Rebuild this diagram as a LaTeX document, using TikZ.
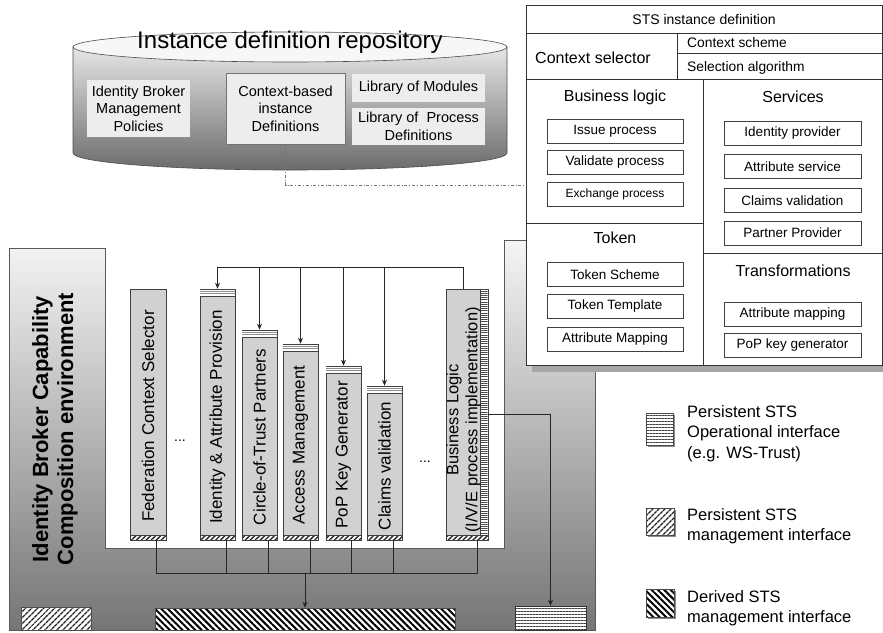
\documentclass[tikz,border=0pt]{standalone}
\usepackage{fontspec}
\setmainfont{Liberation Sans}
\usetikzlibrary{arrows.meta,patterns.meta,fit,calc}
\definecolor{modfill}{gray}{0.82}
\definecolor{envtop}{gray}{0.96}
\definecolor{envbot}{gray}{0.46}
\definecolor{cyltop}{gray}{0.90}
\definecolor{cylbot}{gray}{0.42}
\newcommand\modcap[3]{%
  \fill[white] (#1,-#3) rectangle (#2,-#3-7);
  \draw[black!45,line width=0.5pt] (#1,-#3-2.3) -- (#2,-#3-2.3) (#1,-#3-4.6) -- (#2,-#3-4.6);
  \draw[black!75,line width=0.6pt] (#1,-#3) -- (#2,-#3) (#1,-#3-7) -- (#2,-#3-7);}
\newcommand\modfoot[2]{%
  \path[modhatch,draw=black!75,line width=0.5pt] (#1,-535) rectangle (#2,-540);}
\begin{document}
\begin{tikzpicture}[x=1pt,y=1pt,
  item/.style={draw=black!75, line width=0.6pt, fill=white, minimum height=24pt, inner sep=0pt, font=\fontsize{13.5}{16}\selectfont},
  litem/.style={item, minimum width=136pt},
  ritem/.style={item, minimum width=137pt},
  head/.style={inner sep=0pt, font=\fontsize{16}{19}\selectfont},
  sub/.style={inner sep=0pt, anchor=west, font=\fontsize{13.8}{16}\selectfont},
  cbox/.style={fill=black!7, inner sep=0pt, align=center, font=\fontsize{14.5}{17.5}\selectfont},
  modbox/.style={draw=black!75, line width=0.6pt, fill=modfill, inner sep=0pt},
  modtext/.style={rotate=90, inner sep=0pt, font=\fontsize{17}{19}\selectfont, align=center},
  conn/.style={draw=black!85, line width=0.7pt},
  arr/.style={conn, -{Stealth[length=6pt,width=5pt]}},
  modhatch/.style={preaction={fill=white}, pattern={Lines[angle=45,distance=3.5pt,line width=1.4pt]}, pattern color=black!85},
  mgmtpat/.style={preaction={fill=white}, pattern={Lines[angle=45,distance=4pt,line width=1.5pt]}, pattern color=black!85},
  derpat/.style={preaction={fill=white}, pattern={Lines[angle=-45,distance=4.5pt,line width=2pt]}, pattern color=black},
  oppat/.style={preaction={fill=white}, pattern={Lines[angle=0,distance=3pt,line width=1pt]}, pattern color=black!75},
  stripat/.style={preaction={fill=white}, pattern={Lines[angle=0,distance=2.2pt,line width=0.8pt]}, pattern color=black!70},
  legtext/.style={anchor=west, inner sep=0pt, align=left, font=\fontsize{16.5}{20.5}\selectfont},
  dots/.style={font=\fontsize{14}{14}\selectfont, inner sep=0pt}
]
\useasboundingbox (0,0) rectangle (883,-632);
\fill[white] (0,0) rectangle (883,-632);

% ---------------- repository cylinder ----------------
\shade[top color=cyltop, bottom color=cylbot, draw=black!70, line width=0.6pt]
  (73,-47) -- (73,-153) arc[start angle=180, end angle=360, x radius=217, y radius=17] -- (507,-47) -- cycle;
\draw[fill=black!3, draw=black!70, line width=0.6pt] (290,-47) ellipse[x radius=217, y radius=15];
\node[font=\fontsize{24}{24}\selectfont, anchor=base, inner sep=0pt] (repo) at (290,-48) {Instance definition repository};
\node[cbox, minimum width=103pt, minimum height=57pt] (c1) at (138.5,-108.5) {Identity Broker\\Management\\Policies};
\node[cbox, draw=black!55, minimum width=119pt, minimum height=71pt] (c2) at (285.5,-108.5) {Context-based\\instance\\Definitions};
\node[cbox, minimum width=133pt, minimum height=28pt] (c3) at (418.5,-88) {Library of Modules};
\node[cbox, minimum width=133pt, minimum height=37pt] (c4) at (418.5,-126.5) {Library of\ \ Process\\Definitions};

% ---------------- composition environment ----------------
\shade[top color=envtop, bottom color=envbot, draw=black!65, line width=0.6pt]
  (9,-248) -- (105,-248) -- (105,-548) -- (504,-548) -- (504,-240) -- (595,-240) -- (595,-630) -- (9,-630) -- cycle;
\node[rotate=90, inner sep=0pt, align=center, font=\bfseries\fontsize{22}{25}\selectfont] (envlbl) at (55,-429)
  {Identity Broker Capability\\Composition environment};

% interface bars
\node[mgmtpat, draw=black!70, line width=0.5pt, minimum width=70pt, minimum height=23pt, inner sep=0pt] (pbar) at (56,-618.5) {};
\node[derpat, draw=black!70, line width=0.5pt, minimum width=300pt, minimum height=22pt, inner sep=0pt] (dbar) at (305,-619) {};
\node[oppat, draw=black!80, line width=0.6pt, minimum width=71pt, minimum height=24pt, inner sep=0pt] (obar) at (550.5,-618) {};

% modules
\node[modbox, fit={(130,-289) (166,-540)}] (m1) {};
\node[modbox, fit={(200,-289) (235,-540)}] (m2) {};
\node[modbox, fit={(242,-330) (277,-540)}] (m3) {};
\node[modbox, fit={(283,-344) (318,-540)}] (m4) {};
\node[modbox, fit={(326,-366) (361,-540)}] (m5) {};
\node[modbox, fit={(367,-386) (402,-540)}] (m6) {};
\node[modbox, fit={(446,-289) (488,-540)}] (m7) {};
\path[stripat, draw=black!75, line width=0.5pt] (480,-289) rectangle (488,-540);
\modcap{200}{235}{289}
\modcap{242}{277}{330}
\modcap{283}{318}{344}
\modcap{326}{361}{366}
\modcap{367}{402}{386}
\modfoot{130}{166}
\modfoot{200}{235}
\modfoot{242}{277}
\modfoot{283}{318}
\modfoot{326}{361}
\modfoot{367}{402}
\modfoot{446}{488}
\node[modtext] (t1) at (148,-416) {Federation Context Selector};
\node[modtext] (t2) at (217.5,-417) {Identity \& Attribute Provision};
\node[modtext] (t3) at (259.5,-437) {Circle-of-Trust Partners};
\node[modtext] (t4) at (300.5,-445) {Access Management};
\node[modtext] (t5) at (343.5,-455) {PoP Key Generator};
\node[modtext] (t6) at (384.5,-466) {Claims validation};
\node[modtext, font=\fontsize{16.5}{19}\selectfont] (t7) at (463.5,-420) {Business Logic\\(I/V/E process implementation)};
\node[dots] (d1) at (180,-441) {...};
\node[dots] (d2) at (425,-462) {...};

% top connector
\coordinate (tbus) at (0,-267);
\draw[arr] ([xshift=-4pt]m7.north) -- ([xshift=-4pt]m7.north |- tbus) -| (m2.north);
\draw[arr] (m3.north |- tbus) -- (m3.north);
\draw[arr] (m4.north |- tbus) -- (m4.north);
\draw[arr] (m5.north |- tbus) -- (m5.north);
\draw[arr] (m6.north |- tbus) -- (m6.north);

% bottom connector
\coordinate (bbus) at (0,-573);
\draw[conn] ([xshift=8pt]m1.south) |- ([xshift=10pt]m7.south |- bbus) -- ([xshift=10pt]m7.south);
\draw[conn] ([xshift=8.5pt]m2.south) -- ([xshift=8.5pt]m2.south |- bbus);
\draw[conn] ([xshift=8.5pt]m3.south) -- ([xshift=8.5pt]m3.south |- bbus);
\draw[conn] ([xshift=9.5pt]m4.south) -- ([xshift=9.5pt]m4.south |- bbus);
\draw[conn] ([xshift=7.5pt]m5.south) -- ([xshift=7.5pt]m5.south |- bbus);
\draw[conn] ([xshift=8.5pt]m6.south) -- ([xshift=8.5pt]m6.south |- bbus);
\draw[arr] (dbar.north |- bbus) -- (dbar.north);
\draw[arr] (m7.east |- 0,-414) -| (obar.north);

% ---------------- STS instance definition ----------------
\fill[black!35] (532,-12) rectangle (890,-372);
\node[draw=black!80, line width=0.8pt, fill=white, minimum width=356pt, minimum height=360pt, inner sep=0pt] (sts) at (704,-185) {};
\draw[black!80, line width=0.7pt]
  (526,-33) -- (882,-33)
  (526,-79) -- (882,-79)
  (677,-33) -- (677,-79)
  (677,-53) -- (882,-53)
  (703,-79) -- (703,-365)
  (526,-223) -- (703,-223)
  (703,-253) -- (882,-253);
\node[head, font=\fontsize{14}{16}\selectfont] (stsh) at (704,-19) {STS instance definition};
\node[head] (csel) at (593,-58) {Context selector};
\node[sub] (csch) at (687,-43) {Context scheme};
\node[sub] (salg) at (687,-68) {Selection algorithm};
\node[head] (bl) at (615,-97) {Business logic};
\node[head] (srv) at (793,-97) {Services};
\node[head] (tok) at (615,-238) {Token};
\node[head] (trf) at (793,-271) {Transformations};
\node[litem] (i1) at (615,-131) {Issue process};
\node[litem] (i2) at (615,-162.5) {Validate process};
\node[litem, font=\fontsize{12}{14}\selectfont] (i3) at (615,-194) {Exchange process};
\node[litem] (i4) at (615,-274.5) {Token Scheme};
\node[litem] (i5) at (615,-306.5) {Token Template};
\node[litem] (i6) at (615,-339.5) {Attribute Mapping};
\node[ritem] (r1) at (792.5,-133.5) {Identity provider};
\node[ritem] (r2) at (792.5,-166.5) {Attribute service};
\node[ritem] (r3) at (792.5,-200.5) {Claims validation};
\node[ritem] (r4) at (792.5,-233) {Partner Provider};
\node[ritem] (r5) at (792.5,-314) {Attribute mapping};
\node[ritem] (r6) at (792.5,-345) {PoP key generator};

% dash-dot link repository -> STS definition
\draw[black!55, line width=0.6pt, dash dot] (c2.south) |- (sts.west);

% ---------------- legend ----------------
\fill[black!45] (648,-415) rectangle (675,-447);
\node[oppat, draw=black!70, line width=0.5pt, minimum width=27pt, minimum height=32pt, inner sep=0pt] (lg1) at (659.5,-429) {};
\node[legtext] (lt1) at (687,-433.5) {Persistent STS\\Operational interface\\(e.g. WS-Trust)};
\fill[black!45] (648,-510) rectangle (676,-537);
\node[mgmtpat, draw=black!70, line width=0.5pt, minimum width=28pt, minimum height=27pt, inner sep=0pt] (lg2) at (660,-521.5) {};
\node[legtext] (lt2) at (687,-526) {Persistent STS\\management interface};
\fill[black!45] (648,-591) rectangle (676,-619);
\node[derpat, draw=black!70, line width=0.5pt, minimum width=28pt, minimum height=28pt, inner sep=0pt] (lg3) at (660,-603) {};
\node[legtext] (lt3) at (687,-608) {Derived STS\\management interface};
\end{tikzpicture}
\end{document}
